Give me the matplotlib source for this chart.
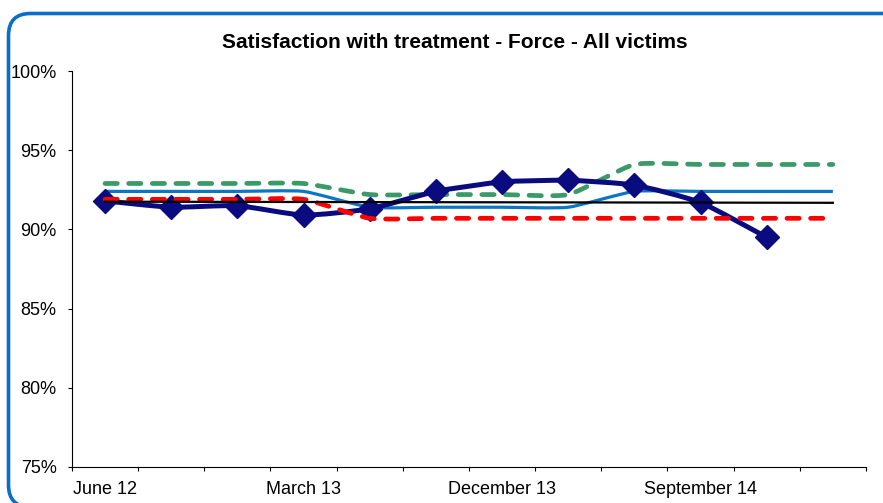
import matplotlib
matplotlib.use('Agg')
import matplotlib.pyplot as plt
from matplotlib.path import Path
from matplotlib.patches import PathPatch, FancyBboxPatch
from matplotlib.ticker import FuncFormatter
from matplotlib.transforms import IdentityTransform

plt.rcParams['font.family'] = ['Liberation Sans', 'DejaVu Sans']

# quarters on the x axis
quarters = ['June 12', 'September 12', 'December 12', 'March 13', 'June 13',
            'September 13', 'December 13', 'March 14', 'June 14', 'September 14',
            'December 14', 'March 15']
shown_labels = ['June 12', 'March 13', 'December 13', 'September 14']

# satisfaction (%)
force = [91.8, 91.4, 91.5, 90.9, 91.3, 92.4, 93.0, 93.1, 92.8, 91.7, 89.5]
msg_average = [92.4, 92.4, 92.4, 92.4, 91.4, 91.4, 91.4, 91.4, 92.4, 92.4, 92.4, 92.4]
upper_limit = [92.9, 92.9, 92.9, 92.9, 92.2, 92.2, 92.2, 92.2, 94.1, 94.1, 94.1, 94.1]
lower_limit = [91.9, 91.9, 91.9, 91.9, 90.7, 90.7, 90.7, 90.7, 90.7, 90.7, 90.7, 90.7]
trend_ends = [91.75, 91.68]

SMOOTH = 0.09  # bezier handle length, fraction of neighbour span


def smooth_path(ys):
    """Smoothed line as cubic bezier through the points."""
    xs = list(range(len(ys)))
    n = len(xs)
    verts = [(xs[0], ys[0])]
    codes = [Path.MOVETO]
    for i in range(n - 1):
        a = i - 1 if i > 0 else i
        b = i + 2 if i + 2 < n else i + 1
        c1 = (xs[i] + (xs[i + 1] - xs[a]) * SMOOTH, ys[i] + (ys[i + 1] - ys[a]) * SMOOTH)
        c2 = (xs[i + 1] - (xs[b] - xs[i]) * SMOOTH, ys[i + 1] - (ys[b] - ys[i]) * SMOOTH)
        verts += [c1, c2, (xs[i + 1], ys[i + 1])]
        codes += [Path.CURVE4] * 3
    return Path(verts, codes)


fig = plt.figure(figsize=(8.83, 5.03), dpi=100)
ax = fig.add_axes([0.0815, 0.0716, 0.8992, 0.7872])

ax.add_patch(PathPatch(smooth_path(msg_average), fill=False, color='#0a76c4',
                       lw=2.3, zorder=2))
ax.add_patch(PathPatch(smooth_path(upper_limit), fill=False, color='#3a9a68',
                       lw=3.4, linestyle=(0, (2.6, 2.4)), capstyle='round', zorder=3))
ax.add_patch(PathPatch(smooth_path(force), fill=False, color='#0b0b80',
                       lw=3.6, capstyle='round', zorder=4))
ax.plot(range(len(force)), force, linestyle='none', marker='D', ms=12.5,
        color='#0b0b80', zorder=4)
ax.add_patch(PathPatch(smooth_path(lower_limit), fill=False, color='#ff0000',
                       lw=3.4, linestyle=(0, (2.6, 2.4)), capstyle='round', zorder=5))
ax.plot([0, len(quarters) - 1], trend_ends, color='black', lw=1.6, zorder=6)

ax.set_xlim(-0.5, len(quarters) - 0.5)
ax.set_ylim(75, 100)
ax.set_yticks(range(75, 101, 5))
ax.yaxis.set_major_formatter(FuncFormatter(lambda v, p: '%d%%' % v))

# tick marks between categories, labels centred under every third one
ax.set_xticks([i - 0.5 for i in range(len(quarters) + 1)])
ax.set_xticklabels([])
ax.set_xticks(range(len(quarters)), minor=True)
ax.set_xticklabels([q if q in shown_labels else '' for q in quarters], minor=True)
ax.tick_params(axis='x', which='major', length=3, width=0.8, direction='out')
ax.tick_params(axis='x', which='minor', length=0, pad=10, labelsize=13)
ax.tick_params(axis='y', length=3, width=0.8, pad=8, labelsize=13)

for side in ['top', 'right']:
    ax.spines[side].set_visible(False)
for side in ['left', 'bottom']:
    ax.spines[side].set_linewidth(0.8)

fig.text(0.515, 0.9165, 'Satisfaction with treatment - Force - All victims',
         ha='center', va='center', fontsize=15, fontweight='bold')

# rounded chart border, running off the right and bottom edges
border = FancyBboxPatch((8.5, -4), 897, 493.5, boxstyle='round,pad=0,rounding_size=22',
                        transform=IdentityTransform(), fill=False,
                        edgecolor='#0a6ec7', lw=2.6)
fig.patches.append(border)

fig.savefig('out.png', dpi=100)
